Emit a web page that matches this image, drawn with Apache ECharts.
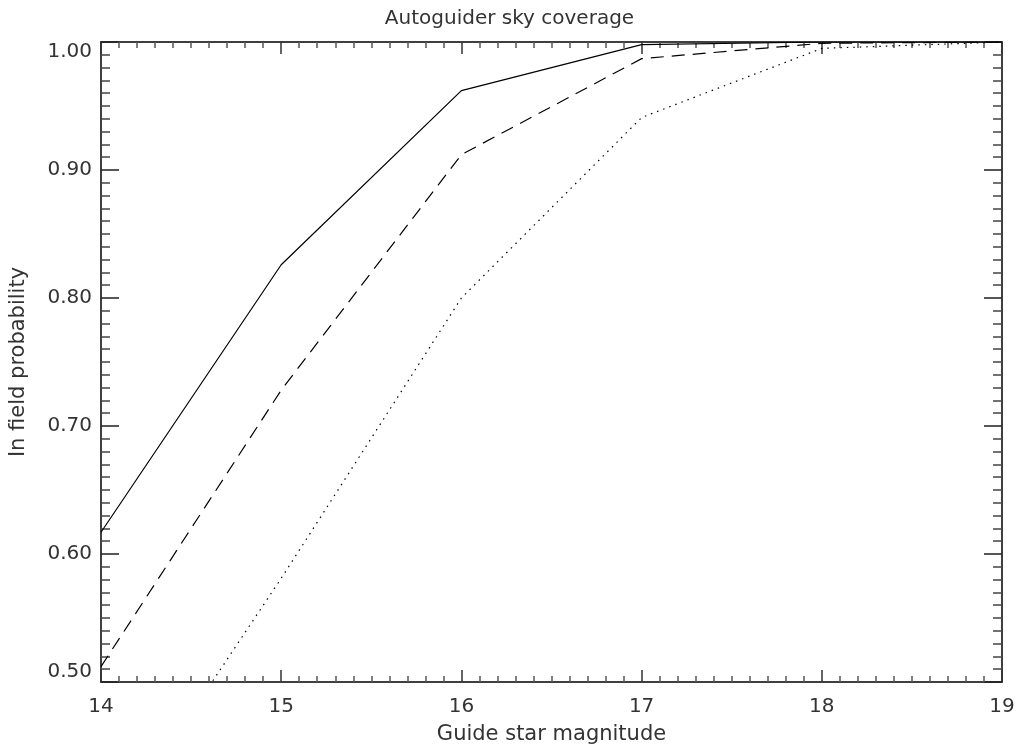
<!DOCTYPE html>
<html>
<head>
<meta charset="utf-8">
<script src="https://cdn.jsdelivr.net/npm/echarts@6/dist/echarts.min.js"></script>
<style>
html,body{margin:0;padding:0;background:#fff;}
#c{width:1019px;height:750px;}
</style>
</head>
<body>
<div id="c"></div>
<script>
const magnitudes = [14, 15, 16, 17, 18, 19];
const solidValues = [0.617, 0.826, 0.962, 0.998, 1.0, 1.0];
const dashedValues = [0.512, 0.728, 0.912, 0.987, 0.999, 1.0];
const dottedValues = [0.37, 0.581, 0.80, 0.941, 0.995, 1.0];
const titleText = 'Autoguider sky coverage';
const xName = 'Guide star magnitude';
const yName = 'In field probability';

const FONT = 'DejaVu Sans';
const TXT = '#333';

function pairs(vals){ return magnitudes.map((m,i)=>[m, vals[i]]); }

const chart = echarts.init(document.getElementById('c'), null, {renderer:'canvas'});

const xCommon = {
  type:'value', min:14, max:19, interval:1,
  axisLine:{show:true, lineStyle:{color:'#000', width:1.5}},
  axisTick:{show:true, inside:true, length:12, lineStyle:{color:'#333', width:1.5}},
  minorTick:{show:true, splitNumber:10, length:6, lineStyle:{color:'#555', width:1.5}},
  splitLine:{show:false}
};
const yCommon = {
  type:'value', min:0.5, max:1.0, interval:0.1,
  axisLine:{show:true, lineStyle:{color:'#000', width:1.5}},
  axisTick:{show:true, inside:true, length:18, lineStyle:{color:'#222', width:1.5}},
  minorTick:{show:true, splitNumber:10, length:9, lineStyle:{color:'#444', width:1.5}},
  splitLine:{show:false}
};

chart.setOption({
  backgroundColor:'#fff',
  animation:false,
  title:{
    text:titleText, left:'center', top:4,
    textStyle:{fontFamily:FONT, fontSize:20, fontWeight:'normal', color:TXT}
  },
  grid:{left:101, right:17, top:42, bottom:68, containLabel:false, outerBoundsMode:'none'},
  xAxis:[
    Object.assign({}, xCommon, {
      position:'bottom',
      name:xName, nameLocation:'middle', nameGap:42,
      nameTextStyle:{fontFamily:FONT, fontSize:21, color:TXT},
      axisLabel:{show:true, margin:15, fontFamily:FONT, fontSize:20, color:TXT}
    }),
    Object.assign({}, xCommon, {position:'top', axisLabel:{show:false}})
  ],
  yAxis:[
    Object.assign({}, yCommon, {
      position:'left',
      name:yName, nameLocation:'middle', nameGap:72, nameRotate:90,
      nameTextStyle:{fontFamily:FONT, fontSize:21, color:TXT},
      axisLabel:{show:true, margin:9, fontFamily:FONT, fontSize:20, color:TXT,
        verticalAlignMinLabel:'bottom', verticalAlignMaxLabel:'top',
        formatter:v=>v.toFixed(2)}
    }),
    Object.assign({}, yCommon, {position:'right', axisLabel:{show:false}})
  ],
  series:[
    {type:'line', data:pairs(solidValues), symbol:'none', clip:true,
     lineStyle:{color:'#000', width:1.2, type:'solid'}},
    {type:'line', data:pairs(dashedValues), symbol:'none', clip:true,
     lineStyle:{color:'#000', width:1.2, type:[13,8]}},
    {type:'line', data:pairs(dottedValues), symbol:'none', clip:true,
     lineStyle:{color:'#000', width:1.2, type:[1.5,5]}}
  ]
});
</script>
</body>
</html>
